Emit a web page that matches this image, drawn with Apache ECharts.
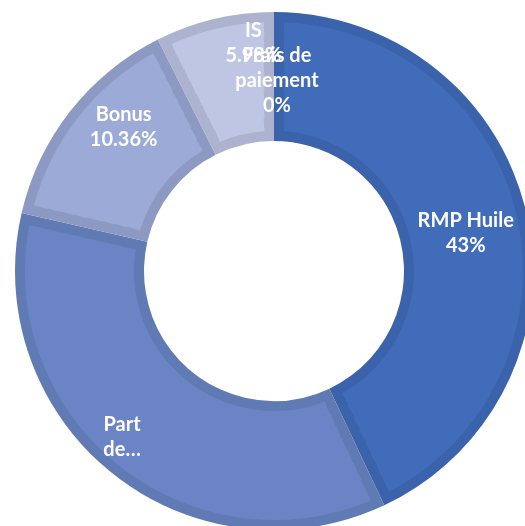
<!DOCTYPE html>
<html>
<head>
<meta charset="utf-8">
<script src="https://cdn.jsdelivr.net/npm/echarts@6/dist/echarts.min.js"></script>
<style>
html,body{margin:0;padding:0;background:#fff;}
#chart{width:525px;height:526px;}
</style>
</head>
<body>
<div id="chart"></div>
<script>
// categories (clockwise from 12 o'clock)
var categories = ['RMP Huile', 'Part de…', 'Bonus', 'IS', 'Frais de paiement'];
// slice sizes (share of the ring, %)
var sliceValues = [43, 35.6, 14.0, 7.4, 0];
// label texts as printed on the chart
var labelTexts = ['RMP Huile\n43%', 'Part\nde…', 'Bonus\n10.36%', 'IS\n5.98%', 'Frais de\npaiement\n0%'];

// ---- styling / layout (not data) ----
var fillColors = ['#416cb9', '#6a84c6', '#9baad6', '#bfc6e4', '#d5d9ec'];
var edgeColors = ['#3a63ab', '#607ab4', '#8c9ac3', '#adb3ce', '#c5c9dc'];
var labelNudge = [[-1, 5], [-28, 12], [5, -22], [25, -36], [3, 7]];
var center = [274, 271];
var rOuter = 259, rInner = 130, edge = 10;

var total = sliceValues.reduce(function (a, b) { return a + b; }, 0);

// back ring: slice outlines
var series = [{
  type: 'pie', center: center, radius: [rInner, rOuter], startAngle: 90, clockwise: true,
  silent: true, avoidLabelOverlap: false, label: { show: false }, labelLine: { show: false },
  data: categories.map(function (c, i) {
    return { name: c, value: sliceValues[i], itemStyle: { color: edgeColors[i] } };
  }), z: 1
}];

// front rings: slice fills inset by a constant edge width
var nRings = 8;
var r0 = rInner + edge, r1 = rOuter - edge;
for (var k = 0; k < nRings; k++) {
  var ra = r0 + (r1 - r0) * k / nRings;
  var rb = r0 + (r1 - r0) * (k + 1) / nRings;
  var rm = (ra + rb) / 2;
  var gap = (edge / rm) / (2 * Math.PI) * total; // in value units
  var d = [];
  categories.forEach(function (c, i) {
    var v = sliceValues[i];
    if (v <= 2 * gap) { d.push({ value: v, itemStyle: { color: 'rgba(0,0,0,0)' } }); return; }
    d.push({ value: gap, itemStyle: { color: 'rgba(0,0,0,0)' } });
    d.push({ name: c, value: v - 2 * gap, itemStyle: { color: fillColors[i] } });
    d.push({ value: gap, itemStyle: { color: 'rgba(0,0,0,0)' } });
  });
  series.push({
    type: 'pie', center: center, radius: [ra - (k ? 0.6 : 0), rb + (k < nRings - 1 ? 0.6 : 0)],
    startAngle: 90, clockwise: true, silent: true, avoidLabelOverlap: false,
    label: { show: false }, labelLine: { show: false }, data: d, z: 2
  });
}

// label layer (transparent); a zero slice still needs an anchor for its label
series.push({
  type: 'pie', center: center, radius: [rInner + edge, rOuter - edge], startAngle: 90, clockwise: true,
  silent: true, avoidLabelOverlap: false, minShowLabelAngle: 0, labelLine: { show: false },
  labelLayout: { hideOverlap: false },
  label: {
    show: true, position: 'inside', color: '#ffffff',
    fontFamily: 'Lato', fontWeight: 'bold', fontSize: 20, lineHeight: 25, align: 'center'
  },
  itemStyle: { color: 'rgba(0,0,0,0)' },
  data: categories.map(function (c, i) {
    return { name: c, value: Math.max(sliceValues[i], 0.01), label: { formatter: labelTexts[i], offset: labelNudge[i] } };
  }), z: 3
});

var chart = echarts.init(document.getElementById('chart'), null, { renderer: 'canvas' });
chart.setOption({ animation: false, backgroundColor: '#ffffff', series: series });
</script>
</body>
</html>
